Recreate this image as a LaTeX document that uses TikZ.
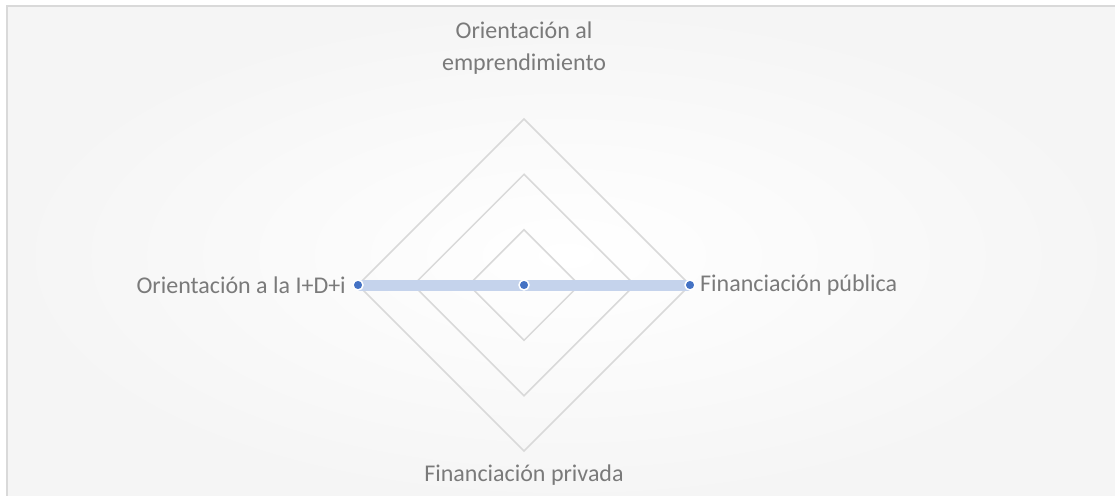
\documentclass[tikz,border=0pt]{standalone}
\usepackage{fontspec}
\setmainfont{Carlito}
\usetikzlibrary{shadings,calc}
\definecolor{gridc}{HTML}{D9D9D9}
\definecolor{txtc}{HTML}{7A7A7A}
\definecolor{linec}{HTML}{C5D3EC}
\definecolor{dotc}{HTML}{4472C4}
\definecolor{bgedge}{HTML}{F5F5F5}
\tikzset{
  grid/.style={draw=gridc, line width=1.5pt},
  lbl/.style={text=txtc, font=\fontsize{24}{32}\selectfont, inner sep=0pt},
  dot/.style={circle, fill=dotc, draw=white, line width=1.5pt, minimum size=10pt, inner sep=0pt},
}
\begin{document}
\begin{tikzpicture}[x=1pt,y=-1pt]
\useasboundingbox (0,0) rectangle (1115,495);
\shade[inner color=white, outer color=bgedge] (7,6) rectangle (1125,505);
\draw[gridc, line width=1.5pt] (7,505) -- (7,6) -- (1125,6);
\coordinate (c) at (524,285);
\foreach \r in {55.3,110.7,166} {
  \draw[grid] ($(c)+(0,-\r)$) -- ($(c)+(\r,0)$) -- ($(c)+(0,\r)$) -- ($(c)+(-\r,0)$) -- cycle;
}
\coordinate (pL) at (358,285);
\coordinate (pC) at (524,285);
\coordinate (pR) at (690,285);
\draw[linec, line width=11pt] (pL) -- (pC) -- (pR);
\node[dot] (dL) at (pL) {};
\node[dot] (dC) at (pC) {};
\node[dot] (dR) at (pR) {};
\node[lbl, align=center] (t) at (524,48) {Orientación al\\emprendimiento};
\node[lbl, anchor=east] (l) at (346,285) {Orientación a la I+D+i};
\node[lbl, anchor=west] (r) at (700,285) {Financiación pública};
\node[lbl] (b) at (524,475) {Financiación privada};
\end{tikzpicture}
\end{document}
